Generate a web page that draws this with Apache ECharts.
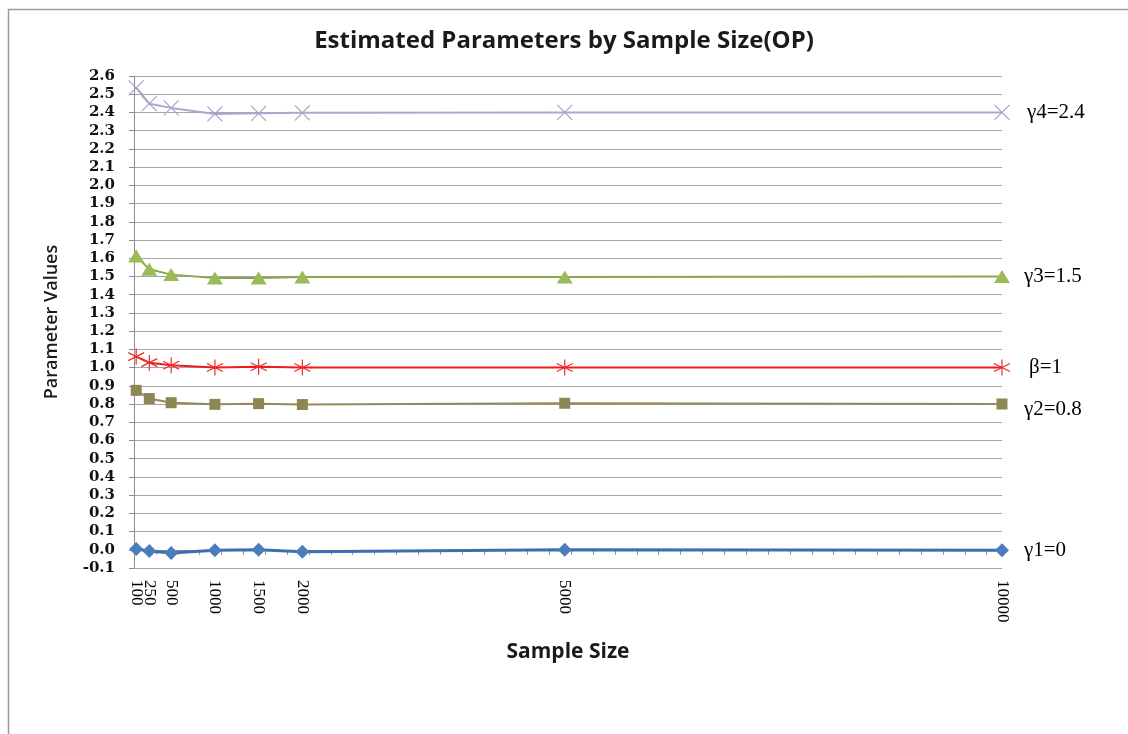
<!DOCTYPE html>
<html>
<head>
<meta charset="utf-8">
<title>Estimated Parameters by Sample Size(OP)</title>
<script src="https://cdn.jsdelivr.net/npm/echarts@6/dist/echarts.min.js"></script>
<style>
  html, body { margin: 0; padding: 0; background: #fff; }
  #chart { width: 1128px; height: 734px; }
</style>
</head>
<body>
<div id="chart"></div>
<script>
// Sample sizes used in the simulation (x positions)
const sampleSizes = [100, 250, 500, 1000, 1500, 2000, 5000, 10000];

// Mean estimates for each parameter at each sample size
const gamma1 = [0.004, -0.007, -0.018, -0.002, 0.0, -0.011, 0.0, -0.002];
const gamma2 = [0.875, 0.830, 0.807, 0.798, 0.802, 0.797, 0.804, 0.800];
const beta   = [1.060, 1.027, 1.013, 1.000, 1.004, 1.000, 1.000, 1.000];
const gamma3 = [1.612, 1.540, 1.510, 1.492, 1.492, 1.497, 1.497, 1.500];
const gamma4 = [2.535, 2.448, 2.425, 2.392, 2.395, 2.398, 2.400, 2.400];

// True parameter labels shown at the line ends
const seriesNames = ['γ1=0', 'γ2=0.8', 'β=1', 'γ3=1.5', 'γ4=2.4'];

// Axis settings
const xMin = 75, xMax = 10000, xTickStep = 250;
const yMin = -0.1, yMax = 2.6, yStep = 0.1;

// Minor ticks along the sample-size axis
const xTicks = [];
for (let v = xMin; v <= xMax; v += xTickStep) xTicks.push(v);

// The 100 and 250 labels sit almost on top of each other, so the labels
// are split over two overlaid axes to keep every one of them drawn.
const labelsA = sampleSizes.filter((_, i) => i % 2 === 0);
const labelsB = sampleSizes.filter((_, i) => i % 2 === 1);

const pairs = arr => sampleSizes.map((s, i) => [s, arr[i]]);

const crossPath = 'path://M0,0L10,10M10,0L0,10';
const starPath = 'path://M5,0L5,10M0.7,2.5L9.3,7.5M9.3,2.5L0.7,7.5';

const sansFont = '"Open Sans", Lato, sans-serif';
const serifFont = '"Liberation Serif", "Times New Roman", serif';

const xLabelStyle = (values) => ({
  customValues: values,
  hideOverlap: false,
  rotate: -90,
  margin: 12,
  color: '#000',
  fontFamily: serifFont,
  fontSize: 17,
  formatter: v => String(v)
});

const endLabel = (extra) => Object.assign({
  show: true,
  formatter: '{a}',
  distance: 22,
  color: '#000',
  fontFamily: serifFont,
  fontSize: 21
}, extra || {});

const chart = echarts.init(document.getElementById('chart'), null, { renderer: 'canvas' });

chart.setOption({
  backgroundColor: '#fff',
  animation: false,
  graphic: [{
    type: 'rect',
    shape: { x: 8.5, y: 9.5, width: 1300, height: 900 },
    style: { fill: 'none', stroke: '#9a9a9a', lineWidth: 1.5 },
    silent: true
  }],
  title: {
    text: 'Estimated Parameters by Sample Size(OP)',
    left: 'center',
    top: 24,
    textStyle: {
      fontFamily: sansFont,
      fontWeight: 'bold',
      fontSize: 24,
      color: '#1a1a1a'
    }
  },
  grid: { left: 134, right: 126, top: 76, bottom: 166 },
  xAxis: [
    {
      type: 'value',
      min: xMin,
      max: xMax,
      name: 'Sample Size',
      nameLocation: 'middle',
      nameGap: 74,
      nameTextStyle: {
        fontFamily: sansFont,
        fontWeight: 'bold',
        fontSize: 21,
        color: '#1a1a1a'
      },
      splitLine: { show: false },
      axisLine: { show: true, lineStyle: { color: '#8c8c8c', width: 1 } },
      axisTick: {
        show: true,
        length: 5,
        customValues: xTicks,
        lineStyle: { color: '#8c8c8c' }
      },
      axisLabel: xLabelStyle(labelsA)
    },
    {
      type: 'value',
      min: xMin,
      max: xMax,
      position: 'bottom',
      splitLine: { show: false },
      axisLine: { show: false },
      axisTick: { show: false },
      axisLabel: xLabelStyle(labelsB)
    }
  ],
  yAxis: {
    type: 'value',
    min: yMin,
    max: yMax,
    interval: yStep,
    name: 'Parameter Values',
    nameLocation: 'middle',
    nameGap: 73,
    nameTextStyle: {
      fontFamily: sansFont,
      fontWeight: 600,
      fontSize: 18,
      color: '#1a1a1a'
    },
    axisLine: { show: true, lineStyle: { color: '#8c8c8c', width: 1 } },
    axisTick: { show: true, length: 5, lineStyle: { color: '#8c8c8c' } },
    splitLine: { show: true, lineStyle: { color: '#a6a6a6', width: 1 } },
    axisLabel: {
      margin: 19,
      color: '#111',
      fontFamily: '"DejaVu Serif", serif',
      fontWeight: 'bold',
      fontSize: 15,
      formatter: v => v.toFixed(1)
    }
  },
  series: [
    {
      name: seriesNames[0],
      type: 'line',
      data: pairs(gamma1),
      symbol: 'diamond',
      symbolSize: 14,
      lineStyle: { color: '#3b70b0', width: 3 },
      itemStyle: { color: '#4a7ebb' },
      endLabel: endLabel()
    },
    {
      name: seriesNames[1],
      type: 'line',
      data: pairs(gamma2),
      symbol: 'rect',
      symbolSize: 11,
      lineStyle: { color: '#948a54', width: 2 },
      itemStyle: { color: '#8f8655' },
      endLabel: endLabel({ offset: [0, 5] })
    },
    {
      name: seriesNames[2],
      type: 'line',
      data: pairs(beta),
      symbol: starPath,
      symbolSize: 16,
      lineStyle: { color: '#ee1c1c', width: 2 },
      itemStyle: { color: 'none', borderColor: '#ee2a2a', borderWidth: 1.2 },
      endLabel: endLabel({ distance: 27 })
    },
    {
      name: seriesNames[3],
      type: 'line',
      data: pairs(gamma3),
      symbol: 'triangle',
      symbolSize: [16, 13],
      lineStyle: { color: '#86a84b', width: 2 },
      itemStyle: { color: '#9bbb59' },
      endLabel: endLabel()
    },
    {
      name: seriesNames[4],
      type: 'line',
      data: pairs(gamma4),
      symbol: crossPath,
      symbolSize: 15,
      lineStyle: { color: '#b0a6d0', width: 2 },
      itemStyle: { color: 'none', borderColor: '#a89fcc', borderWidth: 1.2 },
      endLabel: endLabel({ distance: 25 })
    }
  ]
});
</script>
</body>
</html>
